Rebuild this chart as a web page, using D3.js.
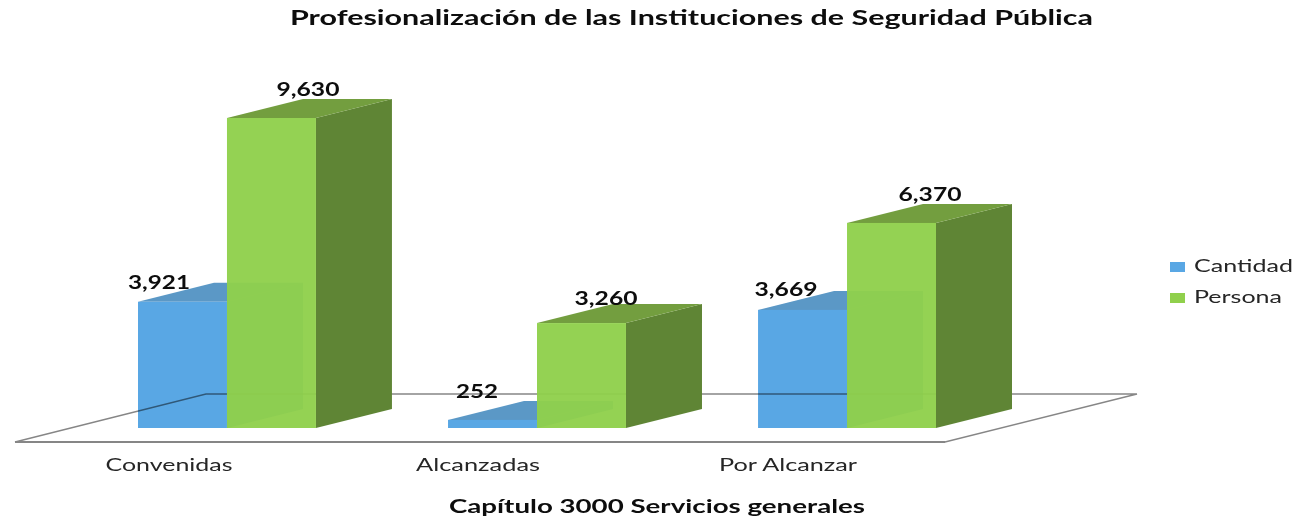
<!DOCTYPE html>
<html><head><meta charset="utf-8">
<script src="https://cdnjs.cloudflare.com/ajax/libs/d3/7.8.5/d3.min.js"></script>
<style>html,body{margin:0;padding:0;background:#fff}svg{display:block;filter:blur(0.35px)}text{font-family:Lato,"Open Sans",sans-serif}</style>
</head><body><svg id="c" width="1295" height="518"></svg>
<script>
const categories = ["Convenidas","Alcanzadas","Por Alcanzar"];
const seriesNames = ["Cantidad","Persona"];
const cantidad = [3921,252,3669];
const persona = [9630,3260,6370];
const valueLabels = {Cantidad:["3,921","252","3,669"],Persona:["9,630","3,260","6,370"]};
const titleText = "Profesionalización de las Instituciones de Seguridad Pública";
const axisTitleText = "Capítulo 3000 Servicios generales";

const colors = {
  Cantidad:{front:"#59a7e4",top:"#5b98c6",side:"#4f93c9"},
  Persona:{front:"#90d04c",top:"#739e3f",side:"#5f8535"}
};
// label nudges (dx from bar left, dy from bar top), as placed by the original chart
const labelDx = {Cantidad:[21,29,28],Persona:[81,69,83]};
const labelDy = {Cantidad:[-13,-22,-14],Persona:[-22,-18,-22]};
const labelW = {Cantidad:[62,42,63],Persona:[63,63,63]};
const catLabelDx = [31,30,30], catLabelW = [127,124,138];

const svg = d3.select("#c");
const depth = {x:76,y:-19};
const x0 = d3.scaleBand().domain(categories).range([138,936]).paddingInner(0.426).paddingOuter(0).align(0);
const x1 = d3.scaleBand().domain(seriesNames).range([0,x0.bandwidth()]);
const y = d3.scaleLinear().domain([0,9630]).range([428,118]);
const line = d3.line();
const values = {Cantidad:cantidad,Persona:persona};

function drawBar(parent,c,i,s){
  const v = values[s][i];
  const l = x0(c)+x1(s), r = l+x1.bandwidth(), t = y(v), b = y(0);
  const col = colors[s], dx = depth.x, dy = depth.y;
  const g = parent.append("g");
  g.append("path").attr("d",line([[r,t],[r+dx,t+dy],[r+dx,b+dy],[r,b]])+"Z").attr("fill",col.side);
  g.append("path").attr("d",line([[l,t],[l+dx,t+dy],[r+dx,t+dy],[r,t]])+"Z").attr("fill",col.top);
  g.append("rect").attr("x",l).attr("y",t).attr("width",r-l).attr("height",b-t).attr("fill",col.front)
    .attr("fill-opacity",s==="Cantidad"?1:0.96);
}

// Cantidad bars first, then the floor multiplied over them so it shows through, then Persona bars
const gBack = svg.append("g");
categories.forEach((c,i)=>drawBar(gBack,c,i,"Cantidad"));

const floor = svg.append("g").style("mix-blend-mode","multiply");
floor.append("path").attr("d",line([[15,442],[945,442],[1137,394],[206,394]])+"Z")
  .attr("fill","none").attr("stroke","#868686").attr("stroke-width",1.3);
floor.append("path").attr("d",line([[15,442],[945,442]])).attr("stroke","#868686").attr("stroke-width",1.9).attr("fill","none");

const gFront = svg.append("g");
categories.forEach((c,i)=>drawBar(gFront,c,i,"Persona"));

// value labels
seriesNames.forEach(s=>{
  categories.forEach((c,i)=>{
    svg.append("text").text(valueLabels[s][i])
      .attr("x",x0(c)+x1(s)+labelDx[s][i]).attr("y",y(values[s][i])+labelDy[s][i])
      .attr("text-anchor","middle").attr("font-size",18).attr("font-weight",700).attr("fill","#0d0d0d")
      .attr("textLength",labelW[s][i]).attr("lengthAdjust","spacingAndGlyphs");
  });
});

// category labels
categories.forEach((c,i)=>{
  svg.append("text").text(c).attr("x",x0(c)+catLabelDx[i]).attr("y",471)
    .attr("text-anchor","middle").attr("font-size",18).attr("fill","#262626")
    .attr("textLength",catLabelW[i]).attr("lengthAdjust","spacingAndGlyphs");
});

// titles
svg.append("text").text(titleText).attr("x",691.5).attr("y",25).attr("text-anchor","middle")
  .attr("font-size",20).attr("font-weight",700).attr("fill","#0d0d0d")
  .attr("textLength",803).attr("lengthAdjust","spacingAndGlyphs");
svg.append("text").text(axisTitleText).attr("x",657).attr("y",513).attr("text-anchor","middle")
  .attr("font-size",19).attr("font-weight",700).attr("fill","#0d0d0d")
  .attr("textLength",416).attr("lengthAdjust","spacingAndGlyphs");

// legend
const legY = [262,293], legW = [99,88];
seriesNames.forEach((s,i)=>{
  svg.append("rect").attr("x",1170).attr("y",legY[i]).attr("width",15).attr("height",10).attr("fill",colors[s].front);
  svg.append("text").text(s).attr("x",1194).attr("y",legY[i]+10).attr("font-size",18).attr("fill","#262626")
    .attr("textLength",legW[i]).attr("lengthAdjust","spacingAndGlyphs");
});
</script></body></html>
